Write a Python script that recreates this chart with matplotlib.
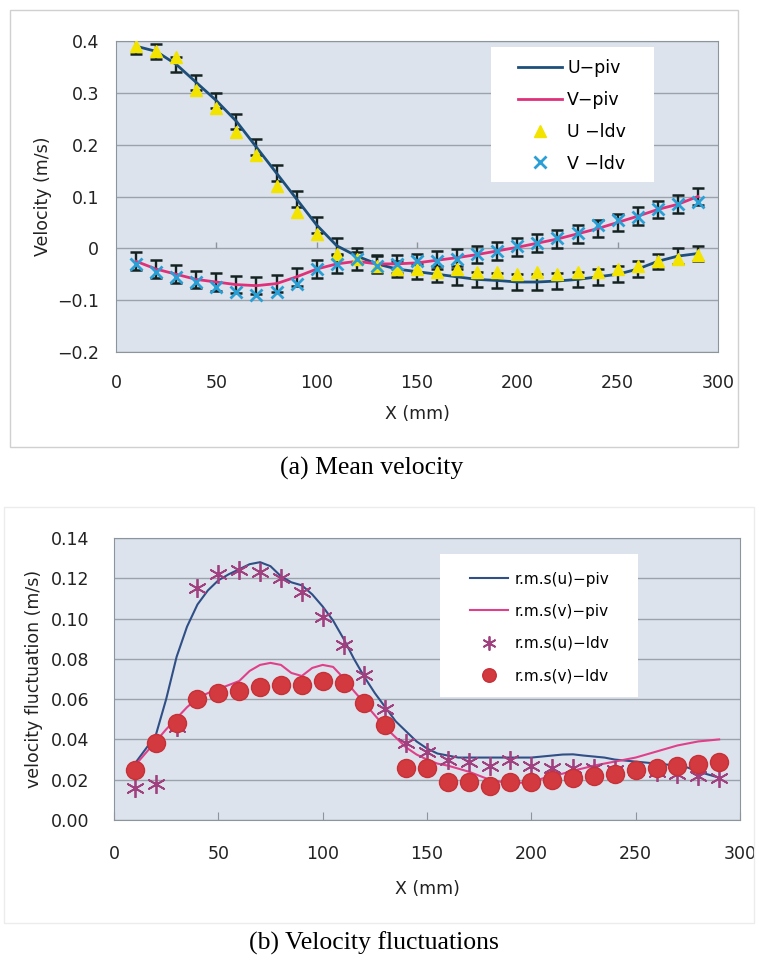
import matplotlib
matplotlib.use("Agg")
import matplotlib.pyplot as plt
from matplotlib.patches import Rectangle

plt.rcParams["font.family"] = ["DejaVu Sans"]

# ---- data: (a) mean velocity ----
x_pos = [10, 20, 30, 40, 50, 60, 70, 80, 90, 100, 110, 120, 130, 140, 150,
         160, 170, 180, 190, 200, 210, 220, 230, 240, 250, 260, 270, 280, 290]

u_piv = [0.39, 0.38, 0.355, 0.32, 0.285, 0.245, 0.195, 0.145, 0.095, 0.045,
         0.005, -0.015, -0.03, -0.04, -0.045, -0.05, -0.055, -0.06, -0.062,
         -0.065, -0.065, -0.063, -0.06, -0.055, -0.05, -0.04, -0.025, -0.015, -0.01]
v_piv = [-0.025, -0.04, -0.05, -0.06, -0.065, -0.07, -0.072, -0.068, -0.055,
         -0.04, -0.03, -0.025, -0.03, -0.03, -0.028, -0.023, -0.018, -0.012,
         -0.005, 0.002, 0.01, 0.018, 0.028, 0.038, 0.05, 0.062, 0.075, 0.085, 0.1]
u_ldv = [0.39, 0.38, 0.37, 0.305, 0.27, 0.225, 0.18, 0.12, 0.07, 0.028,
         -0.01, -0.02, -0.035, -0.04, -0.04, -0.045, -0.04, -0.045, -0.045,
         -0.05, -0.045, -0.05, -0.045, -0.045, -0.04, -0.035, -0.025, -0.02, -0.012]
v_ldv = [-0.03, -0.045, -0.055, -0.065, -0.075, -0.085, -0.09, -0.085, -0.068,
         -0.04, -0.03, -0.02, -0.035, -0.03, -0.025, -0.025, -0.02, -0.01,
         -0.005, 0.005, 0.01, 0.02, 0.03, 0.045, 0.055, 0.06, 0.075, 0.085, 0.09]
u_err = 0.015
v_err = 0.017

# ---- data: (b) velocity fluctuations ----
x_piv_b = [10, 15, 20, 25, 30, 35, 40, 45, 50, 55, 60, 65, 70, 75, 80, 85, 90,
           95, 100, 105, 110, 115, 120, 125, 130, 135, 140, 145, 150, 155, 160,
           165, 170, 175, 180, 185, 190, 195, 200, 205, 210, 215, 220, 225, 230,
           235, 240, 245, 250, 255, 260, 265, 270, 275, 280, 285, 290]
rms_u_piv = [0.028, 0.035, 0.042, 0.060, 0.081, 0.096, 0.107, 0.114, 0.119,
             0.122, 0.1245, 0.127, 0.128, 0.126, 0.121, 0.118, 0.1165, 0.112,
             0.106, 0.099, 0.090, 0.080, 0.071, 0.063, 0.056, 0.049, 0.044,
             0.039, 0.0355, 0.033, 0.032, 0.031, 0.031, 0.031, 0.031, 0.031,
             0.031, 0.031, 0.031, 0.0315, 0.032, 0.0325, 0.0326, 0.032, 0.0315,
             0.031, 0.030, 0.0295, 0.029, 0.0285, 0.028, 0.0275, 0.027, 0.026,
             0.024, 0.0225, 0.021]
rms_v_piv = [0.027, 0.033, 0.039, 0.045, 0.0505, 0.056, 0.0605, 0.063, 0.065,
             0.067, 0.069, 0.074, 0.077, 0.078, 0.077, 0.073, 0.0715, 0.0755,
             0.077, 0.076, 0.0705, 0.064, 0.058, 0.052, 0.046, 0.041, 0.036,
             0.0325, 0.030, 0.028, 0.027, 0.0255, 0.024, 0.022, 0.020, 0.019,
             0.0185, 0.0185, 0.019, 0.0205, 0.022, 0.023, 0.0245, 0.0257, 0.027,
             0.028, 0.029, 0.030, 0.031, 0.0325, 0.034, 0.0355, 0.037, 0.038,
             0.039, 0.0395, 0.040]
rms_u_ldv = [0.016, 0.018, 0.046, 0.115, 0.122, 0.124, 0.123, 0.12, 0.113, 0.101,
             0.087, 0.072, 0.055, 0.038, 0.034, 0.03, 0.029, 0.027, 0.03, 0.027,
             0.026, 0.026, 0.026, 0.025, 0.025, 0.024, 0.023, 0.022, 0.021]
rms_v_ldv = [0.025, 0.038, 0.048, 0.06, 0.063, 0.064, 0.066, 0.067, 0.067, 0.069,
             0.068, 0.058, 0.047, 0.026, 0.026, 0.019, 0.019, 0.017, 0.019, 0.019,
             0.02, 0.021, 0.022, 0.023, 0.025, 0.026, 0.027, 0.028, 0.029]

x_ticks = [0, 50, 100, 150, 200, 250, 300]
y_ticks_a = [-0.2, -0.1, 0, 0.1, 0.2, 0.3, 0.4]
y_labels_a = ["\u22120.2", "\u22120.1", "0", "0.1", "0.2", "0.3", "0.4"]
y_ticks_b = [0.0, 0.02, 0.04, 0.06, 0.08, 0.10, 0.12, 0.14]

W, H = 759, 964
fig = plt.figure(figsize=(W / 100, H / 100), dpi=100)

# outer frames
fig.patches.append(Rectangle((10 / W, 1 - 447 / H), 728 / W, 437 / H,
                             transform=fig.transFigure, fill=False,
                             edgecolor="#d0d0d0", lw=1))
fig.patches.append(Rectangle((4 / W, 1 - 923 / H), 750 / W, 416 / H,
                             transform=fig.transFigure, fill=False,
                             edgecolor="#ececec", lw=1))

bg = "#dde3ec"
grid_c = "#9aa3ab"
spine_c = "#8c949c"
txt_c = "#222222"
fs = 12.5

# ---------- (a) ----------
ax1 = fig.add_axes([116 / W, 1 - 352 / H, 602 / W, 311 / H])
ax1.set_facecolor(bg)
ax1.set_xlim(0, 300)
ax1.set_ylim(-0.2, 0.4)
ax1.set_yticks(y_ticks_a)
ax1.set_yticklabels(y_labels_a)
ax1.set_xticks(x_ticks)
ax1.grid(axis="y", color=grid_c, lw=1)
ax1.set_axisbelow(True)
ax1.tick_params(axis="y", length=0, labelsize=fs, colors=txt_c, pad=12)
ax1.tick_params(axis="x", length=0, labelsize=fs, colors=txt_c, pad=16)
for s in ax1.spines.values():
    s.set_color(spine_c)
# category axis crosses at zero with inward ticks
ax1.vlines(x_ticks[1:-1], 0, 0.012, color=spine_c, lw=1)

ax1.errorbar(x_pos, u_piv, yerr=u_err, fmt="none", ecolor="#142222",
             elinewidth=1.7, capsize=4.5, capthick=1.8, zorder=2)
ax1.errorbar(x_pos, v_piv, yerr=v_err, fmt="none", ecolor="#142222",
             elinewidth=1.7, capsize=4.5, capthick=1.8, zorder=2)
ax1.plot(x_pos, u_piv, color="#1d4f7a", lw=2, label="U\u2212piv", zorder=3)
ax1.plot(x_pos, v_piv, color="#e0307a", lw=2, label="V\u2212piv", zorder=3)
ax1.plot(x_pos, u_ldv, ls="none", marker="^", ms=9, color="#f2e400",
         mec="#f2e400", label="U \u2212ldv", zorder=4)
ax1.plot(x_pos, v_ldv, ls="none", marker="x", ms=8, mew=2, color="#2a9fd6",
         label="V \u2212ldv", zorder=4)

ax1.set_xlabel("X (mm)", fontsize=fs, color=txt_c, labelpad=9)
ax1.set_ylabel("Velocity (m/s)", fontsize=fs, color=txt_c, labelpad=4)

ax1.add_patch(Rectangle((0.623, 0.547), 0.271, 0.434, transform=ax1.transAxes,
                        facecolor="white", edgecolor="none", zorder=4.5))
leg1 = ax1.legend(loc="center left", bbox_to_anchor=(0.668, 0.759),
                  fontsize=fs, frameon=False, borderpad=0, borderaxespad=0,
                  handlelength=2.53, handletextpad=0.29, labelspacing=0.79)
leg1.set_zorder(5)

fig.text(372 / W, 1 - 468 / H, "(a) Mean velocity", ha="center", va="center",
         family="Liberation Serif", fontsize=18.5)

# ---------- (b) ----------
ax2 = fig.add_axes([114 / W, 1 - 820 / H, 626 / W, 282 / H])
ax2.set_facecolor(bg)
ax2.set_xlim(0, 300)
ax2.set_ylim(0, 0.14)
ax2.set_yticks(y_ticks_b)
ax2.set_yticklabels([f"{v:.2f}" for v in y_ticks_b])
ax2.set_xticks(x_ticks)
ax2.grid(axis="y", color=grid_c, lw=1)
ax2.set_axisbelow(True)
ax2.tick_params(axis="y", length=0, labelsize=fs, colors=txt_c, pad=18)
ax2.tick_params(axis="x", direction="in", length=6, color=spine_c,
                labelsize=fs, labelcolor=txt_c, pad=18)
for s in ax2.spines.values():
    s.set_color(spine_c)

ax2.plot(x_piv_b, rms_u_piv, color="#2f4f86", lw=1.5,
         label="r.m.s(u)\u2212piv", zorder=3)
ax2.plot(x_piv_b, rms_v_piv, color="#e0408a", lw=1.5,
         label="r.m.s(v)\u2212piv", zorder=3)
ax2.plot(x_pos, rms_u_ldv, ls="none", marker=(6, 2, 0), ms=13.5, mew=1.3,
         color="#a0407f", label="r.m.s(u)\u2212ldv", zorder=4)
ax2.plot(x_pos, rms_v_ldv, ls="none", marker="o", ms=13, color="#d23a40",
         mec="#c83038", label="r.m.s(v)\u2212ldv", zorder=4)

ax2.set_xlabel("X (mm)", fontsize=fs, color=txt_c, labelpad=12)
ax2.set_ylabel("velocity fluctuation (m/s)", fontsize=fs, color=txt_c,
               labelpad=5)

ax2.add_patch(Rectangle((0.521, 0.436), 0.316, 0.507, transform=ax2.transAxes,
                        facecolor="white", edgecolor="none", zorder=4.5))
leg2 = ax2.legend(loc="center left", bbox_to_anchor=(0.569, 0.683),
                  fontsize=11, frameon=False, borderpad=0, borderaxespad=0,
                  handlelength=2.48, handletextpad=0.4, labelspacing=1.12,
                  markerscale=0.75)
leg2.set_zorder(5)

fig.text(374 / W, 1 - 943 / H, "(b) Velocity fluctuations", ha="center",
         va="center", family="Liberation Serif", fontsize=18.5)

fig.savefig("out.png", dpi=100)
